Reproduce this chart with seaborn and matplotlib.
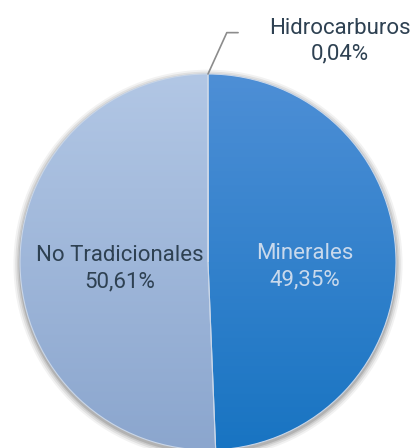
import numpy as np
import matplotlib
matplotlib.use("Agg")
import matplotlib.pyplot as plt
import seaborn as sns
from matplotlib.colors import LinearSegmentedColormap
from matplotlib.patches import Circle

sns.set_theme(style="white")
plt.rcParams['font.family'] = ['Roboto', 'DejaVu Sans']

categories = ["Minerales", "No Tradicionales", "Hidrocarburos"]
values = [49.35, 50.61, 0.04]
value_labels = ["49,35%", "50,61%", "0,04%"]
top_colors = ["#4E8FD6", "#B2C7E5", "#8A8A8A"]
bottom_colors = ["#1874C2", "#8BA6CE", "#8A8A8A"]

fig = plt.figure(figsize=(4.17, 4.48), dpi=100)
W, H = 417, 448
cx, cy, r = 208, 262, 188
ax = fig.add_axes([(cx - r) / W, (H - cy - r) / H, 2 * r / W, 2 * r / H])
ax.set_xlim(-1, 1)
ax.set_ylim(-1, 1)
ax.set_aspect("equal")
ax.axis("off")

# soft shadow
for dr, a in [(0.035, 0.05), (0.025, 0.07), (0.015, 0.09), (0.007, 0.12)]:
    ax.add_patch(Circle((0.0, -0.012), 1 + dr, color="black", alpha=a, lw=0, zorder=0, clip_on=False))

wedges, _ = ax.pie(values, startangle=90, counterclock=False, radius=1,
                   wedgeprops=dict(linewidth=0.8, edgecolor="#C9D6E8"))
ax.set_xlim(-1, 1)
ax.set_ylim(-1, 1)

for w, tc, bc in zip(wedges, top_colors, bottom_colors):
    w.set_facecolor("none")
    cmap = LinearSegmentedColormap.from_list("g", [bc, tc])
    grad = np.linspace(0, 1, 256).reshape(-1, 1)
    im = ax.imshow(grad, cmap=cmap, extent=[-1, 1, -1, 1], origin="lower",
                   aspect="auto", zorder=1)
    im.set_clip_path(w)
    w.set_zorder(2)

def mid(w, d):
    ang = np.deg2rad((w.theta1 + w.theta2) / 2)
    return d * np.cos(ang), d * np.sin(ang)

fs = 16
x, y = mid(wedges[0], 0.48)
ax.text(x + 0.035, y - 0.035, f"{categories[0]}\n{value_labels[0]}", ha="center", va="center",
        fontsize=fs, color="#C9D9EC", linespacing=1.3, zorder=5)
x, y = mid(wedges[1], 0.48)
ax.text(x + 0.01, y - 0.025, f"{categories[1]}\n{value_labels[1]}", ha="center", va="center",
        fontsize=fs, color="#2E4152", linespacing=1.3, zorder=5)

# leader line for small slice
ax.plot([0.0, 0.10, 0.16], [1.0, 1.22, 1.22], color="#8C8C8C", lw=1.2,
        clip_on=False, zorder=5)
ax.text(0.70, 1.175, f"{categories[2]}\n{value_labels[2]}", ha="center", va="center",
        fontsize=fs, color="#2E4152", linespacing=1.3, zorder=5, clip_on=False)

fig.savefig("out.png", dpi=100)
